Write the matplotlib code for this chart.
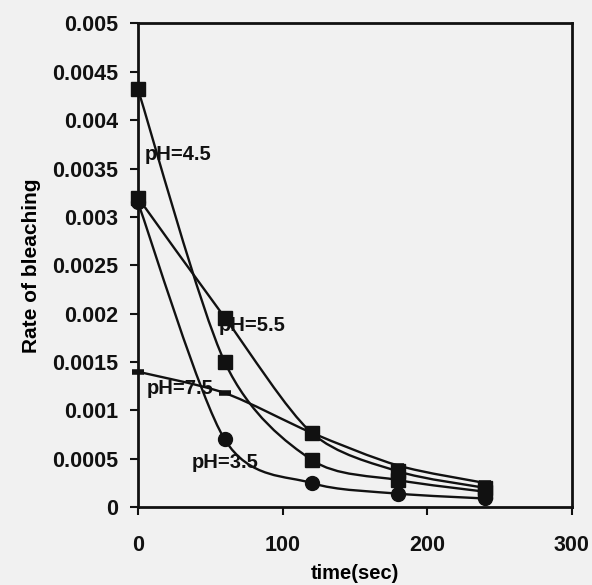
import numpy as np
import matplotlib
matplotlib.use("Agg")
import matplotlib.pyplot as plt
from matplotlib.path import Path
from matplotlib.patches import PathPatch

plt.rcParams['font.family'] = ['Liberation Sans', 'DejaVu Sans']

# data
time_sec = [0, 60, 120, 180, 240]
rate_ph35 = [0.00315, 0.00070, 0.00025, 0.00014, 0.00009]
rate_ph45 = [0.00432, 0.00150, 0.00049, 0.00028, 0.00016]
rate_ph55 = [0.00320, 0.00196, 0.00077, 0.00037, 0.00020]
rate_ph75 = [0.00140, 0.00118, 0.00077, 0.00043, 0.00025]

series = [
    ('pH=3.5', rate_ph35, 'o', 10, 1),
    ('pH=4.5', rate_ph45, 's', 10, 1),
    ('pH=5.5', rate_ph55, 's', 10, 1),
    ('pH=7.5', rate_ph75, '_', 8, 4),
]

# label anchor positions (data coords)
label_pos = {
    'pH=4.5': (5, 0.00364),
    'pH=5.5': (56, 0.00188),
    'pH=7.5': (6, 0.00123),
    'pH=3.5': (37, 0.00046),
}


def smooth_path(x, y, k=1 / 7.0):
    """Excel style smoothed line as cubic bezier segments"""
    pts = np.column_stack([x, y]).astype(float)
    n = len(pts)
    verts = [pts[0]]
    codes = [Path.MOVETO]
    for i in range(n - 1):
        p0 = pts[i - 1] if i > 0 else pts[i]
        p1 = pts[i]
        p2 = pts[i + 1]
        p3 = pts[i + 2] if i + 2 < n else pts[i + 1]
        c1 = p1 + (p2 - p0) * k
        c2 = p2 - (p3 - p1) * k
        verts += [c1, c2, p2]
        codes += [Path.CURVE4] * 3
    return Path(verts, codes)


fig = plt.figure(figsize=(5.92, 5.85), dpi=100)
bg = '#f1f1f1'
fig.patch.set_facecolor(bg)
ax = fig.add_axes([0.233, 0.133, 0.733, 0.827])
ax.set_facecolor(bg)

for name, vals, marker, ms, mew in series:
    patch = PathPatch(smooth_path(time_sec, vals), facecolor='none',
                      edgecolor='#111111', lw=1.7, zorder=2)
    ax.add_patch(patch)
    ax.plot(time_sec, vals, linestyle='none', marker=marker, ms=ms,
            mew=mew, color='#111111', zorder=3, clip_on=False)
    lx, ly = label_pos[name]
    ax.text(lx, ly, name, fontsize=14.5, fontweight='bold', color='#111111',
            va='center', ha='left', zorder=4)

ax.set_xlim(0, 300)
ax.set_ylim(0, 0.005)
ax.set_xticks([0, 100, 200, 300])
ax.set_yticks(np.arange(0, 0.00501, 0.0005))
ax.set_yticklabels(['0', '0.0005', '0.001', '0.0015', '0.002', '0.0025',
                    '0.003', '0.0035', '0.004', '0.0045', '0.005'])

for sp in ax.spines.values():
    sp.set_linewidth(2)
    sp.set_color('#111111')

ax.tick_params(direction='out', length=6, width=1.5, colors='#111111',
               labelsize=15.5, pad=8)
ax.tick_params(axis='x', pad=14)
for lbl in ax.get_xticklabels() + ax.get_yticklabels():
    lbl.set_fontweight('bold')

ax.set_xlabel('time(sec)', fontsize=14.5, fontweight='bold', labelpad=6)
ax.set_ylabel('Rate of bleaching', fontsize=15, fontweight='bold', labelpad=8)

fig.savefig('out.png', dpi=100, facecolor=bg)
